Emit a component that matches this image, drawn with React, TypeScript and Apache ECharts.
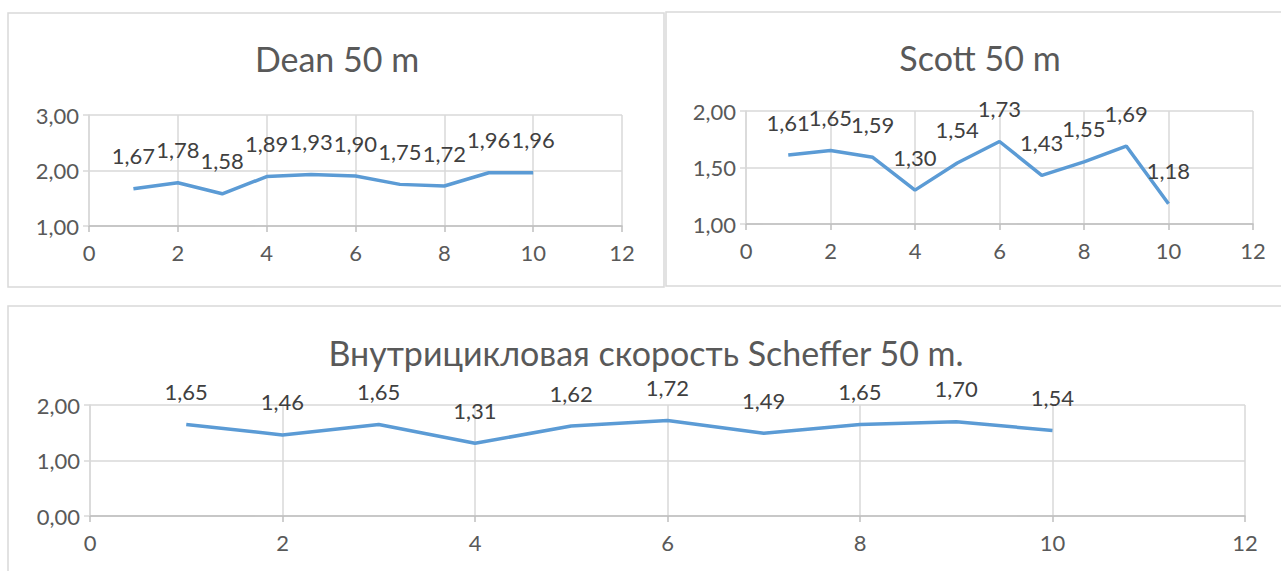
import React, { useEffect, useRef } from "react";
import * as echarts from "echarts";

// Lap index (x) shared by all three charts
const laps = [1, 2, 3, 4, 5, 6, 7, 8, 9, 10];

// Intra-cycle speed, 50 m, per swimmer
const deanValues = [1.67, 1.78, 1.58, 1.89, 1.93, 1.9, 1.75, 1.72, 1.96, 1.96];
const scottValues = [1.61, 1.65, 1.59, 1.3, 1.54, 1.73, 1.43, 1.55, 1.69, 1.18];
const schefferValues = [1.65, 1.46, 1.65, 1.31, 1.62, 1.72, 1.49, 1.65, 1.7, 1.54];

const titles = ["Dean 50 m", "Scott 50 m", "Внутрицикловая скорость Scheffer 50 m."];

const FONT = "Lato, 'Open Sans', sans-serif";
const LINE = "#5B9BD5";
const GRID = "#D9D9D9";
const TEXT = "#595959";

const fmt = (v: number) => v.toFixed(2).replace(".", ",");

export default function App() {
  const ref = useRef<HTMLDivElement>(null);

  useEffect(() => {
    if (!ref.current) return;
    const chart = echarts.init(ref.current, undefined, { renderer: "svg" });

    const grids = [
      { left: 89, top: 115, width: 533, height: 111 },
      { left: 746, top: 111, width: 507, height: 113 },
      { left: 90, top: 405, width: 1155, height: 111 },
    ];
    const yRanges = [
      { min: 1, max: 3, interval: 1 },
      { min: 1, max: 2, interval: 0.5 },
      { min: 0, max: 2, interval: 1 },
    ];
    const seriesValues = [deanValues, scottValues, schefferValues];

    const xAxis = grids.map((_, i) => ({
      type: "value",
      gridIndex: i,
      min: 0,
      max: 12,
      interval: 2,
      axisLine: { show: true, lineStyle: { color: "#BFBFBF", width: 1.5 } },
      axisTick: { show: true, length: 6, lineStyle: { color: "#BFBFBF", width: 1.5 } },
      splitLine: { show: true, lineStyle: { color: GRID, width: 1.5 } },
      axisLabel: { color: TEXT, fontSize: 22, fontFamily: FONT, margin: 15 },
    }));

    const yAxis = grids.map((_, i) => ({
      type: "value",
      gridIndex: i,
      ...yRanges[i],
      axisLine: { show: true, lineStyle: { color: GRID, width: 1.5 } },
      axisTick: { show: true, length: 6, lineStyle: { color: GRID, width: 1.5 } },
      splitLine: { show: true, lineStyle: { color: GRID, width: 1.5 } },
      axisLabel: {
        color: TEXT,
        fontSize: 22,
        fontFamily: FONT,
        margin: 10,
        formatter: (v: number) => fmt(v),
      },
    }));

    const series = seriesValues.map((vals, i) => ({
      type: "line",
      xAxisIndex: i,
      yAxisIndex: i,
      data: laps.map((x, k) => [x, vals[k]]),
      showSymbol: true,
      symbol: "circle",
      symbolSize: 0,
      lineStyle: { color: LINE, width: 3.5 },
      itemStyle: { color: LINE },
      label: {
        show: true,
        position: "top",
        distance: 22,
        offset: [3, 0],
        color: "#404040",
        fontSize: 22,
        fontFamily: FONT,
        formatter: (p: any) => fmt(p.value[1]),
      },
      labelLayout: { hideOverlap: false },
    }));

    const border = { fill: "none", stroke: GRID, lineWidth: 1.5 };
    const titleStyle = (text: string, x: number, y: number) => ({
      type: "text",
      x,
      y,
      style: {
        text,
        fill: TEXT,
        fontSize: 34,
        fontFamily: FONT,
        textAlign: "center",
        textVerticalAlign: "middle",
      },
    });

    chart.setOption({
      animation: false,
      backgroundColor: "#ffffff",
      grid: grids.map((g) => ({ ...g, containLabel: false })),
      xAxis,
      yAxis,
      series,
      graphic: [
        { type: "rect", shape: { x: 8, y: 13, width: 656, height: 274 }, style: border, silent: true },
        { type: "rect", shape: { x: 666, y: 12, width: 640, height: 274 }, style: border, silent: true },
        { type: "rect", shape: { x: 8, y: 306, width: 1300, height: 300 }, style: border, silent: true },
        titleStyle(titles[0], 337, 58),
        titleStyle(titles[1], 980, 57),
        titleStyle(titles[2], 646, 352),
      ],
    });

    return () => chart.dispose();
  }, []);

  return (
    <div
      ref={ref}
      style={{ position: "fixed", left: 0, top: 0, width: 1281, height: 571 }}
    />
  );
}
